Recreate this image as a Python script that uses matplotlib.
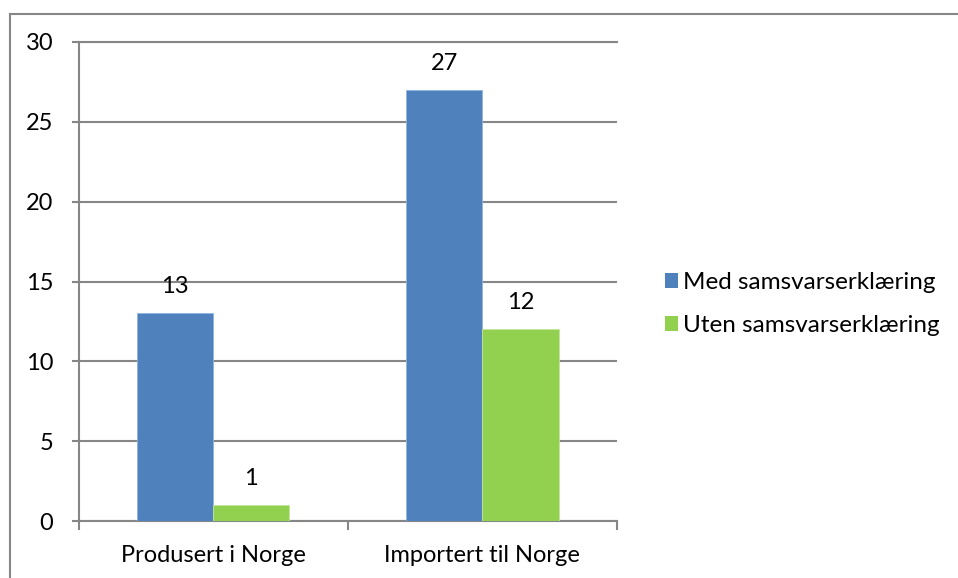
import matplotlib
matplotlib.use("Agg")
import matplotlib.pyplot as plt
from matplotlib.lines import Line2D
from matplotlib.patches import Patch

categories = ["Produsert i Norge", "Importert til Norge"]
series_names = ["Med samsvarserklæring", "Uten samsvarserklæring"]
med_values = [13, 27]
uten_values = [1, 12]
y_ticks = [0, 5, 10, 15, 20, 25, 30]

BLUE = "#4F81BD"
GREEN = "#92D050"
GRID = "#868686"
FS = 17

plt.rcParams['font.family'] = ['Lato', 'DejaVu Sans']

W, H = 958, 578
fig = plt.figure(figsize=(W / 100, H / 100), dpi=100)

# outer chart border (top and left)
fig.add_artist(Line2D([9.5 / W, 1.0], [1 - 13.5 / H, 1 - 13.5 / H], color=GRID, lw=1.5, transform=fig.transFigure))
fig.add_artist(Line2D([9.5 / W, 9.5 / W], [0, 1 - 13.5 / H], color=GRID, lw=1.5, transform=fig.transFigure))

ax_l, ax_r, ax_t, ax_b = 78.5, 617, 42, 521
ax = fig.add_axes([ax_l / W, 1 - ax_b / H, (ax_r - ax_l) / W, (ax_b - ax_t) / H])

x = list(range(len(categories)))
bw = 0.283
b1 = ax.bar([i - bw / 2 for i in x], med_values, bw, color=BLUE, edgecolor="#8EB4E3", linewidth=0.6, label=series_names[0], zorder=3)
b2 = ax.bar([i + bw / 2 for i in x], uten_values, bw, color=GREEN, edgecolor="#C3E59F", linewidth=0.6, label=series_names[1], zorder=3)

for bars in (b1, b2):
    for r in bars:
        ax.annotate(f"{int(r.get_height())}", (r.get_x() + r.get_width() / 2, r.get_height()),
                    xytext=(0, 11.5), textcoords="offset points", ha="center", va="bottom", fontsize=FS)

ax.set_xlim(-0.5, 1.5)
ax.set_ylim(0, 30)
ax.set_yticks(y_ticks)
ax.set_yticklabels([str(v) for v in y_ticks], fontsize=FS)
ax.yaxis.grid(True, color=GRID, linewidth=1.5, zorder=0)
ax.set_axisbelow(True)

ax.set_xticks(x)
ax.set_xticklabels(categories, fontsize=FS)
ax.tick_params(axis='x', which='major', length=0, pad=17)
ax.set_xticks([-0.5, 0.5, 1.5], minor=True)
ax.tick_params(axis='x', which='minor', length=6.5, width=1.5, color=GRID, direction='out')
ax.tick_params(axis='y', length=5, width=1.5, color=GRID, direction='out', pad=13)

ax.spines["right"].set_visible(False)
for s in ("left", "bottom", "top"):
    ax.spines[s].set_color(GRID)
    ax.spines[s].set_linewidth(1.5)

handles = [Patch(facecolor=BLUE, edgecolor="none"), Patch(facecolor=GREEN, edgecolor="none")]
fig.legend(handles, series_names, loc="center left", bbox_to_anchor=(665 / W, 1 - 304 / H),
           frameon=False, fontsize=17.5, handlelength=0.55, handleheight=0.55, handletextpad=0.2,
           labelspacing=0.9, borderaxespad=0, borderpad=0)

fig.savefig("out.png", dpi=100)
